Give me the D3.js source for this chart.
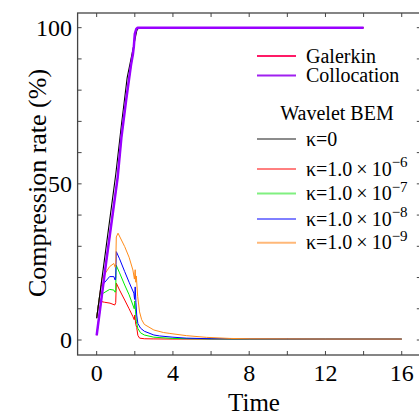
<!DOCTYPE html>
<html><head><meta charset="utf-8">
<script src="https://cdn.jsdelivr.net/npm/d3@7"></script>
<style>body{margin:0;background:#fff}svg{display:block}</style>
</head><body><svg id="c" width="419" height="416" font-family="Liberation Serif, DejaVu Serif, serif"></svg>
<script>
// ---- data ----
const xTicks = [0, 4, 8, 12, 16];
const yTicks = [0, 50, 100];
const galerkinX = [0, 0.5, 1.1, 1.3, 1.55, 1.8, 1.9, 1.95, 2.0, 2.08, 2.15, 2.25, 14];
const galerkinY = [1.5, 25, 52, 65, 77, 88, 91.5, 94, 98, 99.6, 100, 100, 100];
const collocX = [0, 0.5, 1.1, 1.3, 1.55, 1.8, 1.9, 1.95, 2.0, 2.08, 2.15, 2.25, 14];
const collocY = [1.5, 25, 52, 65, 77, 88, 91.5, 94, 98, 99.6, 100, 100, 100];
const k0X = [0, 0.5, 1.0, 1.3, 1.6, 1.9, 2.0, 2.1, 2.2, 14];
const k0Y = [7, 30, 53, 69, 84, 93, 96, 99, 100, 100];
const k6X = [0, 0.12, 0.4, 0.7, 0.95, 1.0, 1.03, 1.2, 1.47, 1.7, 1.9, 1.97, 2.0, 2.05, 2.1, 2.16, 2.25, 2.5, 3, 4, 6, 8, 12, 16];
const k6Y = [7, 12.5, 12.1, 11.8, 11.2, 12, 18.2, 16, 12.8, 10, 7.5, 6.5, 8, 5, 4, 1.5, 0.6, 0.4, 0.35, 0.3, 0.3, 0.3, 0.3, 0.3];
const k7X = [0, 0.17, 0.35, 0.68, 0.9, 0.97, 1.0, 1.02, 1.2, 1.47, 1.7, 1.9, 1.97, 2.0, 2.04, 2.08, 2.16, 2.3, 2.5, 3, 4, 5, 6, 8, 12, 16];
const k7Y = [7, 14.8, 15, 16.2, 16, 15.3, 15.8, 24, 21.5, 17.6, 14.5, 11.2, 10, 12.5, 9, 6, 3.7, 2.3, 1.6, 0.9, 0.5, 0.4, 0.35, 0.3, 0.3, 0.3];
const k8X = [0, 0.23, 0.33, 0.68, 0.9, 0.97, 1.0, 1.03, 1.2, 1.47, 1.7, 1.95, 1.99, 2.02, 2.06, 2.1, 2.16, 2.3, 2.5, 3, 3.3, 4, 4.7, 6, 8, 12, 16];
const k8Y = [7, 17.4, 17.8, 20.3, 20.3, 19.2, 19.8, 28.3, 26, 21.9, 18.5, 15, 13, 17, 12, 8, 5.3, 3.8, 2.8, 1.6, 1.3, 0.9, 0.6, 0.4, 0.35, 0.3, 0.3];
const k9X = [0, 0.28, 0.36, 0.68, 0.9, 0.97, 1.0, 1.03, 1.12, 1.47, 1.7, 1.9, 1.98, 2.02, 2.05, 2.08, 2.15, 2.25, 2.36, 2.5, 3, 3.5, 3.84, 4.7, 5.76, 7, 8, 10, 12, 16];
const k9Y = [7, 19.9, 20.5, 23.5, 24.5, 23.3, 23.8, 33, 34.2, 29.9, 26.5, 22.4, 19.5, 22.5, 18.5, 20.5, 14, 9, 6.5, 5, 3.2, 2.4, 2.1, 1.4, 0.85, 0.5, 0.4, 0.35, 0.3, 0.3];

const svg = d3.select("#c");
const L = 77.6, R = 420.8, T = 13, B = 355;
const x = d3.scaleLinear().domain([-1, 17]).range([L, R]);
const y = d3.scaleLinear().domain([-4.8, 104.7]).range([B, T]);

svg.append("defs").append("clipPath").attr("id", "clip")
  .append("rect").attr("x", L).attr("y", T).attr("width", R - L).attr("height", B - T);

const zip = (a, b) => a.map((v, i) => [v, b[i]]);
const line = d3.line().x(d => x(d[0])).y(d => y(d[1]));
const g = svg.append("g").attr("clip-path", "url(#clip)");

const series = [
  {xs: k6X, ys: k6Y, c: "#ff0000", w: 1},
  {xs: k7X, ys: k7Y, c: "#00ee00", w: 1},
  {xs: k8X, ys: k8Y, c: "#0000ff", w: 1},
  {xs: k9X, ys: k9Y, c: "#ff8c1a", w: 1},
  {xs: k0X, ys: k0Y, c: "#000000", w: 1.1},
  {xs: galerkinX, ys: galerkinY, c: "#ff0066", w: 1.2},
  {xs: collocX, ys: collocY, c: "#9900ff", w: 2.5},
];
series.forEach(s => {
  g.append("path").attr("d", line(zip(s.xs, s.ys))).attr("fill", "none")
    .attr("stroke", s.c).attr("stroke-width", s.w).attr("stroke-linejoin", "round");
});

// frame
const fc = "#444";
svg.append("rect").attr("x", L).attr("y", T).attr("width", R - L).attr("height", B - T)
  .attr("fill", "none").attr("stroke", fc).attr("stroke-width", 1.3);

// ticks
const tl = 4;
d3.range(0, 17, 2).forEach(v => {
  svg.append("line").attr("x1", x(v)).attr("x2", x(v)).attr("y1", B).attr("y2", B - tl).attr("stroke", fc);
  svg.append("line").attr("x1", x(v)).attr("x2", x(v)).attr("y1", T).attr("y2", T + tl).attr("stroke", fc);
});
d3.range(0, 101, 10).forEach(v => {
  svg.append("line").attr("x1", L).attr("x2", L + tl).attr("y1", y(v)).attr("y2", y(v)).attr("stroke", fc);
  svg.append("line").attr("x1", R).attr("x2", R - tl).attr("y1", y(v)).attr("y2", y(v)).attr("stroke", fc);
});

xTicks.forEach(v => {
  svg.append("text").attr("x", x(v)).attr("y", 380.5).attr("text-anchor", "middle")
    .attr("font-size", 24).text(v);
});
yTicks.forEach(v => {
  svg.append("text").attr("x", 72).attr("y", y(v)).attr("dy", "0.35em").attr("text-anchor", "end")
    .attr("font-size", 24).text(v);
});
svg.append("text").attr("x", 254).attr("y", 411).attr("text-anchor", "middle")
  .attr("font-size", 25).text("Time");
svg.append("text").attr("transform", "translate(46,183) rotate(-90)").attr("text-anchor", "middle")
  .attr("font-size", 26).text("Compression rate (%)");

// legend
const lx1 = 257, lx2 = 296, tx = 306;
const legTop = [
  {label: "Galerkin", c: "#ff1a66", w: 2, yy: 56},
  {label: "Collocation", c: "#a020f0", w: 2, yy: 75.5},
];
legTop.forEach(d => {
  svg.append("line").attr("x1", lx1).attr("x2", lx2).attr("y1", d.yy).attr("y2", d.yy)
    .attr("stroke", d.c).attr("stroke-width", d.w);
  svg.append("text").attr("x", tx).attr("y", d.yy).attr("dy", "0.33em").attr("font-size", 20).text(d.label);
});
svg.append("text").attr("x", 337).attr("y", 113).attr("dy", "0.33em").attr("text-anchor", "middle")
  .attr("font-size", 20).text("Wavelet BEM");
const legK = [
  {exp: null, c: "#666666", w: 1.6, yy: 139},
  {exp: "−6", c: "#ff0000", w: 1, yy: 169},
  {exp: "−7", c: "#80f080", w: 2, yy: 193.5},
  {exp: "−8", c: "#0000ff", w: 1, yy: 219},
  {exp: "−9", c: "#ffb878", w: 2, yy: 242.7},
];
legK.forEach(d => {
  svg.append("line").attr("x1", lx1).attr("x2", lx2).attr("y1", d.yy).attr("y2", d.yy)
    .attr("stroke", d.c).attr("stroke-width", d.w);
  const t = svg.append("text").attr("x", tx).attr("y", d.yy).attr("dy", "0.33em").attr("font-size", 20);
  if (d.exp === null) {
    t.text("κ=0");
  } else {
    t.append("tspan").text("κ=1.0\u2009×\u200910");
    t.append("tspan").attr("font-size", 15).attr("dy", "-0.55em").text(d.exp);
  }
});
</script></body></html>
